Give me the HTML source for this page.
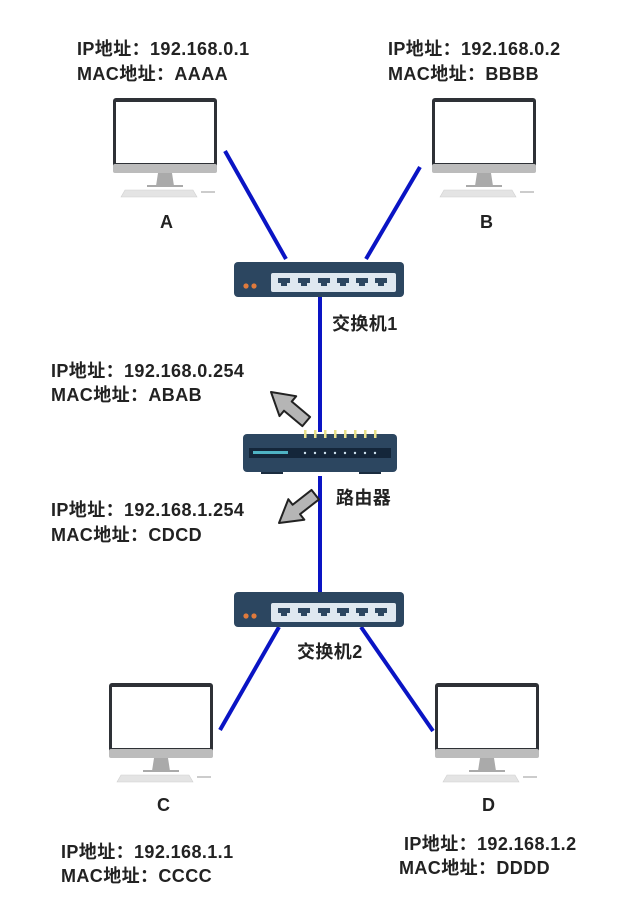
<!DOCTYPE html>
<html><head><meta charset="utf-8"><style>
html,body{margin:0;padding:0;background:#fff;}
svg{display:block}
text{font-family:"Liberation Sans","Noto Sans CJK SC",sans-serif;font-size:18px;fill:#222;font-weight:bold;letter-spacing:0.4px}
</style></head><body>
<svg width="640" height="922" viewBox="0 0 640 922" xmlns="http://www.w3.org/2000/svg">
<defs>
<g id="mon">
<rect x="0" y="0" width="104" height="70" rx="3" fill="#2e3136"/>
<rect x="3" y="4" width="98" height="61" fill="#fff"/>
<rect x="0" y="66" width="104" height="9" rx="2" fill="#bcbcbc"/>
<polygon points="45,75 59,75 61,88 43,88" fill="#aaa"/>
<rect x="34" y="87" width="36" height="2" fill="#aaa"/>
<polygon points="8,99 12,92 80,92 84,99" fill="#e4e4e4" stroke="#cfcfcf" stroke-width="0.6"/>
<rect x="88" y="93" width="14" height="2" fill="#ccc"/>
</g>
<g id="sw">
<rect x="0" y="0" width="170" height="35" rx="4" fill="#2c4660"/>
<rect x="37" y="11" width="125" height="19" rx="2" fill="#dfe8f0"/>
<circle cx="12" cy="24" r="2.6" fill="#e07a3c"/>
<circle cx="20" cy="24" r="2.6" fill="#e07a3c"/>
<g fill="#2c4660">
<path d="M44,16h12v5h-3v3h-6v-3h-3z"/>
<path d="M64,16h12v5h-3v3h-6v-3h-3z"/>
<path d="M84,16h12v5h-3v3h-6v-3h-3z"/>
<path d="M103,16h12v5h-3v3h-6v-3h-3z"/>
<path d="M122,16h12v5h-3v3h-6v-3h-3z"/>
<path d="M141,16h12v5h-3v3h-6v-3h-3z"/>
</g>
</g>
<g id="arr">
<polygon points="0,0 22,-13 22,-6 46,-6 46,6 22,6 22,13" fill="#b5b5b5" stroke="#222" stroke-width="2" stroke-linejoin="round"/>
</g>
</defs>

<g stroke="#0a14c4" stroke-width="4" stroke-linecap="butt">
<line x1="225" y1="151" x2="286" y2="259"/>
<line x1="420" y1="167" x2="366" y2="259"/>
<line x1="320" y1="297" x2="320" y2="432"/>
<line x1="320" y1="476" x2="320" y2="592"/>
<line x1="279" y1="627" x2="220" y2="730"/>
<line x1="361" y1="627" x2="433" y2="731"/>
</g>

<use href="#mon" x="113" y="98"/>
<use href="#mon" x="432" y="98"/>
<use href="#mon" x="109" y="683"/>
<use href="#mon" x="435" y="683"/>

<use href="#sw" x="234" y="262"/>
<use href="#sw" x="234" y="592"/>

<g transform="translate(243,434)">
<rect x="0" y="0" width="154" height="38" rx="4" fill="#2c4660"/>
<rect x="6" y="14" width="142" height="10" fill="#14263a"/>
<rect x="10" y="17" width="35" height="3" fill="#4fb3c4"/>
<g fill="#e8e08a">
<rect x="61" y="-4" width="2.5" height="8"/><rect x="71" y="-4" width="2.5" height="8"/><rect x="81" y="-4" width="2.5" height="8"/><rect x="91" y="-4" width="2.5" height="8"/><rect x="101" y="-4" width="2.5" height="8"/><rect x="111" y="-4" width="2.5" height="8"/><rect x="121" y="-4" width="2.5" height="8"/><rect x="131" y="-4" width="2.5" height="8"/>
</g>
<g fill="#cfe3ee">
<circle cx="62" cy="19" r="1.2"/><circle cx="72" cy="19" r="1.2"/><circle cx="82" cy="19" r="1.2"/><circle cx="92" cy="19" r="1.2"/><circle cx="102" cy="19" r="1.2"/><circle cx="112" cy="19" r="1.2"/><circle cx="122" cy="19" r="1.2"/><circle cx="132" cy="19" r="1.2"/>
</g>
<rect x="18" y="38" width="22" height="2" fill="#1b2d40"/>
<rect x="116" y="38" width="22" height="2" fill="#1b2d40"/>
</g>

<use href="#arr" transform="translate(271,392) rotate(40)"/>
<use href="#arr" transform="translate(279,523) rotate(-38)"/>

<text x="77" y="55">IP地址：192.168.0.1</text>
<text x="77" y="80">MAC地址：AAAA</text>
<text x="388" y="55">IP地址：192.168.0.2</text>
<text x="388" y="80">MAC地址：BBBB</text>
<text x="160" y="228">A</text>
<text x="480" y="228">B</text>
<text x="332" y="330">交换机1</text>
<text x="51" y="377">IP地址：192.168.0.254</text>
<text x="51" y="401">MAC地址：ABAB</text>
<text x="336" y="504">路由器</text>
<text x="51" y="516">IP地址：192.168.1.254</text>
<text x="51" y="541">MAC地址：CDCD</text>
<text x="297" y="658">交换机2</text>
<text x="157" y="811">C</text>
<text x="482" y="811">D</text>
<text x="61" y="858">IP地址：192.168.1.1</text>
<text x="61" y="882">MAC地址：CCCC</text>
<text x="404" y="850">IP地址：192.168.1.2</text>
<text x="399" y="874">MAC地址：DDDD</text>
</svg>
</body></html>
